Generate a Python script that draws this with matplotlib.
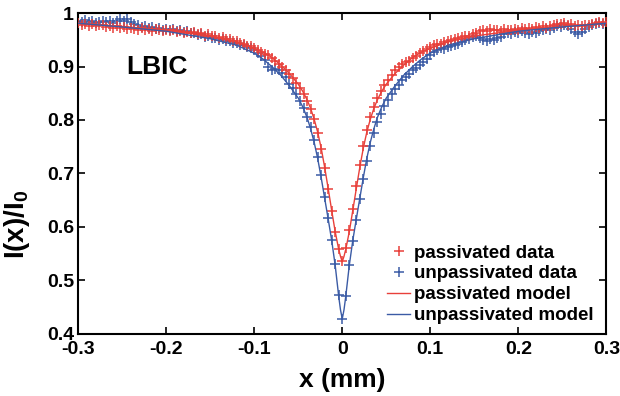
import numpy as np
import matplotlib
matplotlib.use("Agg")
import matplotlib.pyplot as plt

# ---------------- data ----------------
x_data = np.round(np.linspace(-0.3, 0.3, 151), 3)

passivated_data = [
    0.982, 0.978, 0.980, 0.976, 0.979, 0.975, 0.978, 0.977, 0.974, 0.976,
    0.973, 0.975, 0.972, 0.974, 0.970, 0.973, 0.971, 0.968, 0.972, 0.969,
    0.971, 0.967, 0.970, 0.968, 0.966, 0.969, 0.966, 0.968, 0.964, 0.967,
    0.963, 0.965, 0.962, 0.964, 0.960, 0.962, 0.958, 0.960, 0.957, 0.958,
    0.954, 0.955, 0.951, 0.952, 0.948, 0.947, 0.944, 0.943, 0.939, 0.938,
    0.934, 0.931, 0.928, 0.924, 0.921, 0.916, 0.911, 0.905, 0.899, 0.893,
    0.886, 0.879, 0.870, 0.860, 0.849, 0.836, 0.821, 0.801, 0.776, 0.746,
    0.711, 0.671, 0.630, 0.591, 0.559,
    0.536,
    0.560, 0.594, 0.634, 0.676, 0.716, 0.752, 0.781, 0.805, 0.825, 0.841,
    0.854, 0.866, 0.875, 0.884, 0.893, 0.899, 0.905, 0.908, 0.911, 0.916,
    0.919, 0.925, 0.929, 0.933, 0.936, 0.940, 0.942, 0.943, 0.946, 0.947,
    0.950, 0.951, 0.953, 0.955, 0.957, 0.958, 0.961, 0.963, 0.966, 0.968,
    0.967, 0.970, 0.968, 0.969, 0.967, 0.970, 0.968, 0.969, 0.971, 0.969,
    0.972, 0.970, 0.973, 0.971, 0.974, 0.972, 0.975, 0.973, 0.976, 0.978,
    0.980, 0.979, 0.981, 0.978, 0.979, 0.976, 0.977, 0.975, 0.977, 0.978,
    0.980, 0.982, 0.983, 0.981, 0.984,
]

unpassivated_data = [
    0.986, 0.984, 0.987, 0.983, 0.985, 0.982, 0.984, 0.986, 0.983, 0.985,
    0.982, 0.986, 0.988, 0.985, 0.988, 0.984, 0.980, 0.977, 0.974, 0.976,
    0.972, 0.974, 0.970, 0.972, 0.969, 0.971, 0.968, 0.970, 0.966, 0.968,
    0.964, 0.966, 0.962, 0.963, 0.959, 0.960, 0.956, 0.957, 0.953, 0.954,
    0.950, 0.951, 0.947, 0.948, 0.944, 0.944, 0.941, 0.940, 0.936, 0.934,
    0.930, 0.926, 0.920, 0.912, 0.900, 0.893, 0.896, 0.894, 0.888, 0.880,
    0.868, 0.859, 0.848, 0.836, 0.822, 0.806, 0.786, 0.762, 0.731, 0.697,
    0.656, 0.616, 0.576, 0.530, 0.472,
    0.428,
    0.470, 0.528, 0.574, 0.613, 0.652, 0.690, 0.724, 0.752, 0.776, 0.796,
    0.812, 0.826, 0.837, 0.848, 0.858, 0.866, 0.874, 0.880, 0.886, 0.893,
    0.898, 0.903, 0.908, 0.915, 0.922, 0.928, 0.930, 0.934, 0.932, 0.936,
    0.938, 0.941, 0.943, 0.946, 0.949, 0.952, 0.955, 0.957, 0.954, 0.950,
    0.948, 0.951, 0.949, 0.953, 0.956, 0.960, 0.963, 0.961, 0.964, 0.962,
    0.966, 0.963, 0.961, 0.964, 0.962, 0.966, 0.968, 0.971, 0.969, 0.973,
    0.976, 0.974, 0.977, 0.975, 0.970, 0.964, 0.960, 0.964, 0.970, 0.974,
    0.977, 0.979, 0.982, 0.980, 0.978,
]

x_model = [
    -0.300, -0.250, -0.200, -0.150, -0.120, -0.100, -0.090, -0.080, -0.070,
    -0.060, -0.050, -0.045, -0.040, -0.036, -0.032, -0.028, -0.024, -0.020,
    -0.016, -0.012, -0.008, -0.004, -0.002, 0.000,
    0.002, 0.004, 0.008, 0.012, 0.016, 0.020, 0.024, 0.028, 0.032, 0.036,
    0.040, 0.045, 0.050, 0.060, 0.070, 0.080, 0.090, 0.100, 0.120, 0.150,
    0.200, 0.250, 0.300,
]

passivated_model = [
    0.981, 0.975, 0.968, 0.957, 0.946, 0.934, 0.927, 0.917, 0.903,
    0.887, 0.867, 0.854, 0.838, 0.822, 0.802, 0.778, 0.748, 0.712,
    0.672, 0.631, 0.591, 0.558, 0.545, 0.535,
    0.545, 0.558, 0.591, 0.631, 0.672, 0.712, 0.748, 0.778, 0.802, 0.822,
    0.838, 0.854, 0.867, 0.887, 0.903, 0.917, 0.927, 0.934, 0.946, 0.957,
    0.968, 0.975, 0.981,
]

unpassivated_model = [
    0.981, 0.974, 0.966, 0.952, 0.940, 0.925, 0.914, 0.900, 0.884,
    0.864, 0.841, 0.825, 0.805, 0.784, 0.759, 0.729, 0.693, 0.654,
    0.615, 0.575, 0.528, 0.470, 0.445, 0.428,
    0.445, 0.470, 0.528, 0.575, 0.615, 0.654, 0.693, 0.729, 0.759, 0.784,
    0.805, 0.825, 0.841, 0.864, 0.884, 0.900, 0.914, 0.925, 0.940, 0.952,
    0.966, 0.974, 0.981,
]

x_ticks = [-0.3, -0.2, -0.1, 0, 0.1, 0.2, 0.3]
x_ticklabels = ["-0.3", "-0.2", "-0.1", "0", "0.1", "0.2", "0.3"]
y_ticks = [0.4, 0.5, 0.6, 0.7, 0.8, 0.9, 1.0]
y_ticklabels = ["0.4", "0.5", "0.6", "0.7", "0.8", "0.9", "1"]

RED = "#e8403a"
BLUE = "#3b5ba5"

# ---------------- style ----------------
plt.rcParams["font.family"] = ["Liberation Sans", "DejaVu Sans"]
plt.rcParams["font.weight"] = "bold"
plt.rcParams["mathtext.fontset"] = "custom"
plt.rcParams["mathtext.rm"] = "Liberation Sans:bold"
plt.rcParams["mathtext.bf"] = "Liberation Sans:bold"
plt.rcParams["mathtext.default"] = "rm"

fig = plt.figure(figsize=(6.2, 3.96), dpi=100)
ax = fig.add_axes([0.126, 0.157, 0.852, 0.810])

ax.plot(x_data, passivated_data, linestyle="none", marker="+", color=RED,
        markersize=6.5, markeredgewidth=1.1, label="passivated data", zorder=3)
ax.plot(x_data, unpassivated_data, linestyle="none", marker="+", color=BLUE,
        markersize=6.5, markeredgewidth=1.1, label="unpassivated data", zorder=2)
ax.plot(x_model, passivated_model, color=RED, linewidth=1.0,
        label="passivated model", zorder=4)
ax.plot(x_model, unpassivated_model, color=BLUE, linewidth=1.0,
        label="unpassivated model", zorder=4)

ax.set_xlim(-0.3, 0.3)
ax.set_ylim(0.4, 1.0)
ax.set_xticks(x_ticks)
ax.set_xticklabels(x_ticklabels)
ax.set_yticks(y_ticks)
ax.set_yticklabels(y_ticklabels)
ax.tick_params(direction="in", top=True, right=True, length=5, width=1.2,
               labelsize=14)
ax.tick_params(axis="x", pad=5)
ax.tick_params(axis="y", pad=3)
for lab in ax.get_xticklabels() + ax.get_yticklabels():
    lab.set_fontweight("bold")
for sp in ax.spines.values():
    sp.set_linewidth(1.5)

ax.set_xlabel("x (mm)", fontsize=19, fontweight="bold")
ax.xaxis.set_label_coords(0.5, -0.105)
ax.set_ylabel(r"I(x)/I$_0$", fontsize=20, fontweight="bold")
ax.yaxis.set_label_coords(-0.088, 0.34)

ax.text(-0.245, 0.9, "LBIC", fontsize=19, fontweight="bold",
        ha="left", va="center")

leg = ax.legend(loc="lower right", bbox_to_anchor=(0.975, 0.03),
                frameon=False, fontsize=13.5,
                handlelength=1.2, handletextpad=0.2, labelspacing=0.2,
                borderaxespad=0.0, borderpad=0.0, markerscale=1.0)
for t in leg.get_texts():
    t.set_fontweight("bold")

fig.savefig("out.png", dpi=100)
